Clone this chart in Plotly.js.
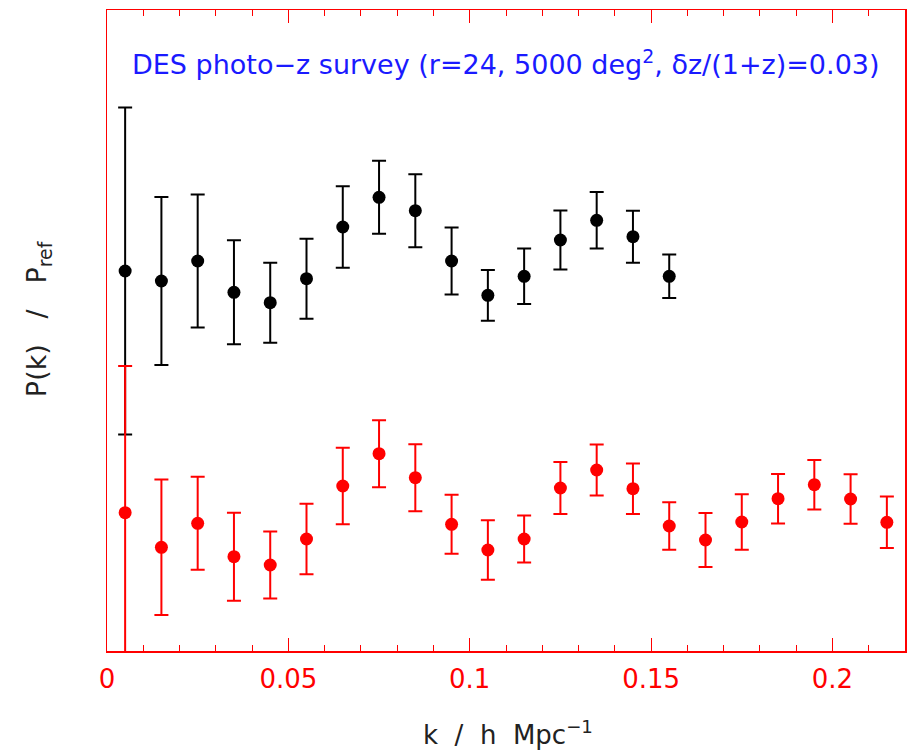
<!DOCTYPE html>
<html>
<head>
<meta charset="utf-8">
<script src="https://cdn.plot.ly/plotly-3.0.1.min.js"></script>
<style>html,body{margin:0;padding:0;background:#fff;}#chart{width:908px;height:754px;}</style>
</head>
<body>
<div id="chart"></div>
<script>
// Black series (upper), arbitrary units
const kBlack = [0.005,0.015,0.025,0.035,0.045,0.055,0.065,0.075,0.085,0.095,0.105,0.115,0.125,0.135,0.145,0.155];
const pBlack = [3.80,3.70,3.90,3.587,3.483,3.723,4.24,4.537,4.403,3.90,3.557,3.747,4.11,4.307,4.143,3.747];
const eBlack = [1.636,0.84,0.665,0.52,0.40,0.40,0.407,0.365,0.365,0.335,0.254,0.277,0.295,0.282,0.26,0.218];

// Red series (lower)
const kRed = [0.005,0.015,0.025,0.035,0.045,0.055,0.065,0.075,0.085,0.095,0.105,0.115,0.125,0.135,0.145,0.155,0.165,0.175,0.185,0.195,0.205,0.215];
const pRed = [1.383,1.037,1.277,0.943,0.86,1.12,1.65,1.973,1.733,1.267,1.01,1.12,1.63,1.81,1.623,1.25,1.11,1.29,1.523,1.663,1.52,1.287];
const eRed = [1.467,0.678,0.465,0.44,0.335,0.353,0.382,0.335,0.335,0.295,0.297,0.235,0.26,0.255,0.253,0.237,0.27,0.277,0.248,0.247,0.248,0.258];

const titleText = "DES photo\u2212z survey (r=24, 5000 deg<sup>2</sup>, \u03b4z/(1+z)=0.03)";
const xTitle = "k\u00a0\u00a0/\u00a0\u00a0h\u00a0\u00a0Mpc<sup>\u22121</sup>";
const yTitle = "P(k)\u00a0\u00a0\u00a0/\u00a0\u00a0\u00a0P<sub>ref</sub>";

const traces = [
  {x: kBlack, y: pBlack, type: 'scatter', mode: 'markers',
   marker: {color: '#000', size: 13},
   error_y: {type: 'data', array: eBlack, visible: true, color: '#000', thickness: 2, width: 7},
   hoverinfo: 'skip', showlegend: false},
  {x: kRed, y: pRed, type: 'scatter', mode: 'markers',
   marker: {color: '#ff0000', size: 13},
   error_y: {type: 'data', array: eRed, visible: true, color: '#ff0000', thickness: 2, width: 7},
   hoverinfo: 'skip', showlegend: false}
];

const layout = {
  width: 908, height: 754,
  margin: {l: 107, r: 3, t: 10, b: 103},
  paper_bgcolor: '#fff', plot_bgcolor: '#fff',
  font: {family: 'DejaVu Sans, sans-serif'},
  xaxis: {
    range: [0, 0.22], dtick: 0.05, tick0: 0,
    ticks: 'inside', ticklen: 13, tickwidth: 1, tickcolor: '#ff0000',
    minor: {dtick: 0.01, ticks: 'inside', ticklen: 6, tickwidth: 1, tickcolor: '#ff0000', showgrid: false},
    showline: true, linecolor: '#ff0000', linewidth: 1.5, mirror: 'ticks',
    showgrid: false, zeroline: false,
    tickfont: {color: '#ff0000', size: 26, family: 'DejaVu Sans, sans-serif'},
    ticklabelstandoff: 4
  },
  yaxis: {
    range: [0, 6.41],
    showline: true, linecolor: '#ff0000', linewidth: 1.5, mirror: true,
    ticks: '', showticklabels: false, showgrid: false, zeroline: false
  },
  annotations: [
    {text: titleText, xref: 'paper', yref: 'paper', x: 0.5, y: 0.918,
     xanchor: 'center', yanchor: 'middle', showarrow: false,
     font: {color: '#1a1aff', size: 27, family: 'DejaVu Sans, sans-serif'}},
    {text: xTitle, xref: 'paper', yref: 'paper', x: 0.502, y: -0.128,
     xanchor: 'center', yanchor: 'middle', showarrow: false,
     font: {color: '#222', size: 26, family: 'DejaVu Sans, sans-serif'}},
    {text: yTitle, xref: 'paper', yref: 'paper', x: -0.085, y: 0.518,
     xanchor: 'center', yanchor: 'middle', showarrow: false, textangle: -90,
     font: {color: '#222', size: 27, family: 'DejaVu Sans, sans-serif'}}
  ]
};

Plotly.newPlot('chart', traces, layout, {displayModeBar: false, staticPlot: true});
</script>
</body>
</html>
